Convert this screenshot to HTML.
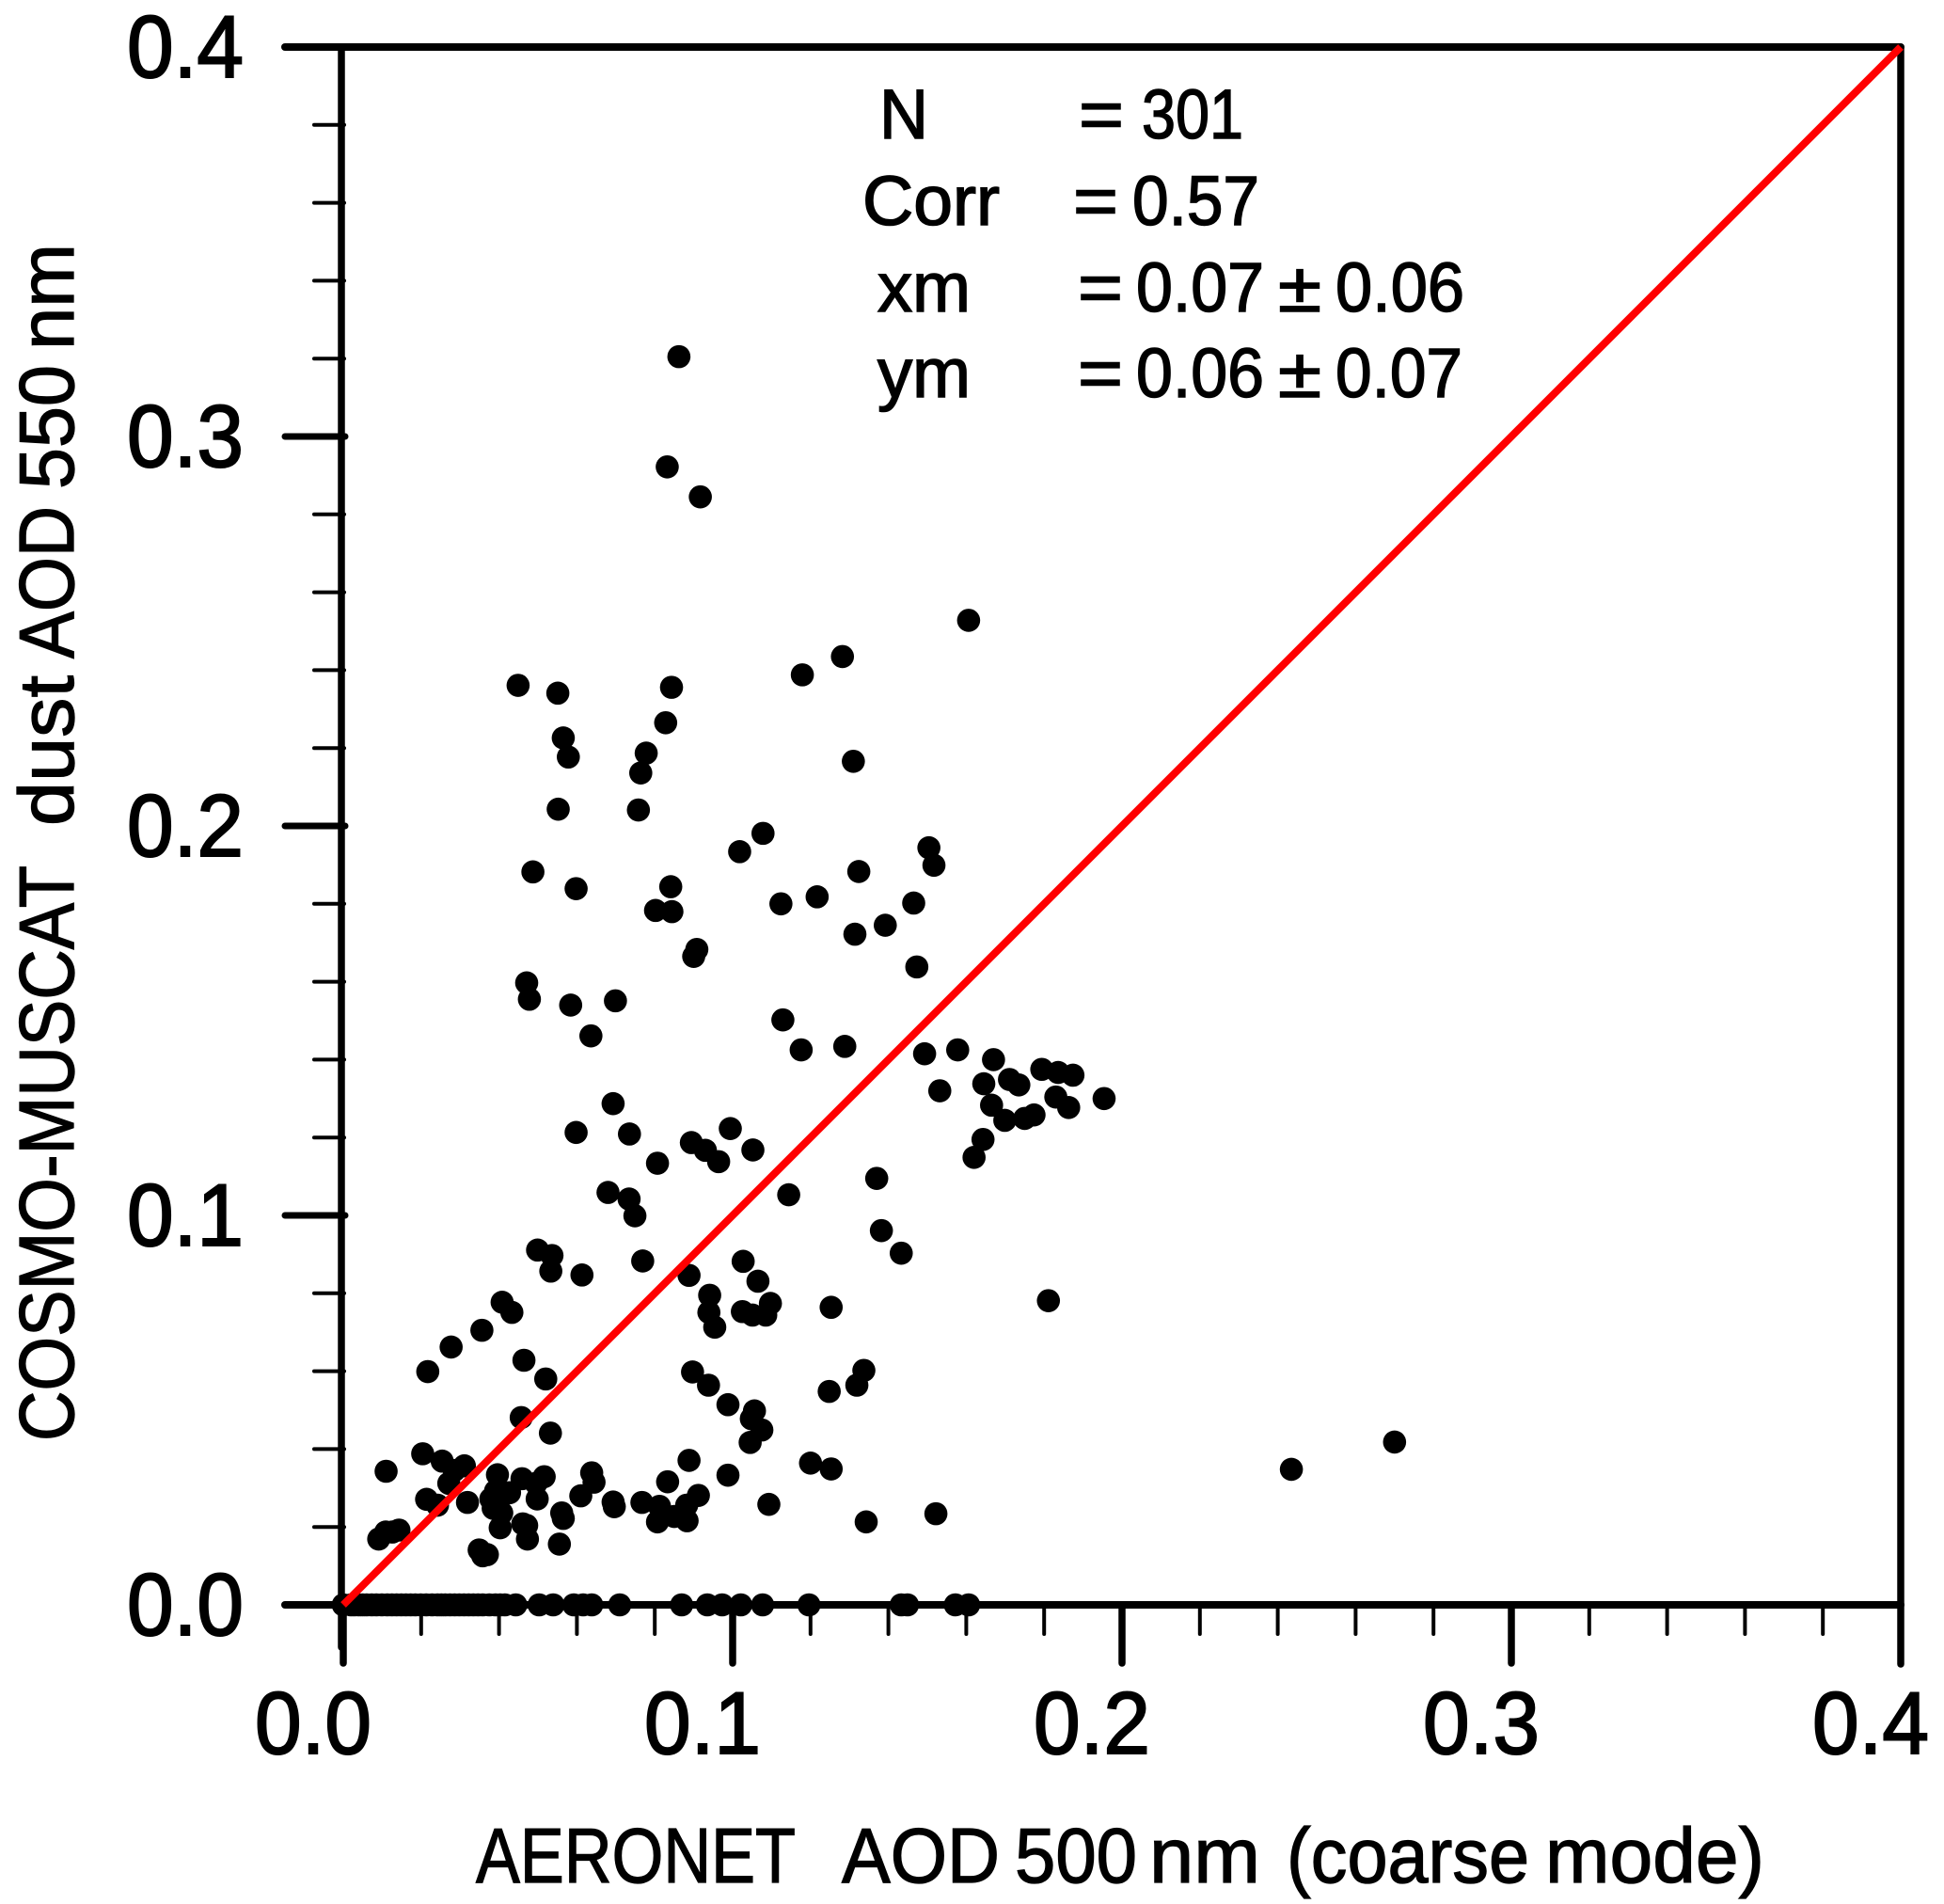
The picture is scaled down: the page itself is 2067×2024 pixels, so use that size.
<!DOCTYPE html>
<html lang="en">
<head>
<meta charset="utf-8">
<title>AERONET vs COSMO-MUSCAT AOD scatter</title>
<style>
html,body{margin:0;padding:0;background:#fff;}
svg{display:block;}
text{font-family:"Liberation Sans",sans-serif;fill:#000;white-space:pre;}
.tick-label{font-size:94px;stroke:#000;stroke-width:2px;}
.axis-title{font-size:83px;stroke:#000;stroke-width:1.3px;}
.stat{font-size:74px;stroke:#000;stroke-width:1.5px;}
</style>
</head>
<body>
<svg id="chart" xmlns="http://www.w3.org/2000/svg" width="2067" height="2024" viewBox="0 0 2067 2024">
  <rect x="0" y="0" width="2067" height="2024" fill="#fff"/>
  <g id="axes"></g>
  <g id="points"></g>
  <g id="reference"></g>
  <g id="ticklabels"></g>

  <g>
    <text class="axis-title" x="506" y="2001" textLength="340" lengthAdjust="spacingAndGlyphs">AERONET</text>
    <text class="axis-title" x="895" y="2001" textLength="168" lengthAdjust="spacingAndGlyphs">AOD</text>
    <text class="axis-title" x="1079" y="2001" textLength="130" lengthAdjust="spacingAndGlyphs">500</text>
    <text class="axis-title" x="1222" y="2001" textLength="118" lengthAdjust="spacingAndGlyphs">nm</text>
    <text class="axis-title" x="1368" y="2001" textLength="258" lengthAdjust="spacingAndGlyphs">(coarse</text>
    <text class="axis-title" x="1643" y="2001" textLength="233" lengthAdjust="spacingAndGlyphs">mode)</text>
  </g>
  <g>
    <text class="axis-title" transform="translate(78,1532) rotate(-90)" textLength="612" lengthAdjust="spacingAndGlyphs">COSMO-MUSCAT</text>
    <text class="axis-title" transform="translate(78,878) rotate(-90)" textLength="160" lengthAdjust="spacingAndGlyphs">dust</text>
    <text class="axis-title" transform="translate(78,700) rotate(-90)" textLength="162" lengthAdjust="spacingAndGlyphs">AOD</text>
    <text class="axis-title" transform="translate(78,520) rotate(-90)" textLength="132" lengthAdjust="spacingAndGlyphs">550</text>
    <text class="axis-title" transform="translate(78,372) rotate(-90)" textLength="113" lengthAdjust="spacingAndGlyphs">nm</text>
  </g>

  <g>
    <text class="stat" x="935" y="147" textLength="52" lengthAdjust="spacingAndGlyphs">N</text>
    <text class="stat" x="1147" y="147" textLength="48" lengthAdjust="spacingAndGlyphs">=</text>
    <text class="stat" x="1214" y="147" textLength="108" lengthAdjust="spacingAndGlyphs">301</text>

    <text class="stat" x="917" y="239" textLength="146" lengthAdjust="spacingAndGlyphs">Corr</text>
    <text class="stat" x="1141" y="239" textLength="48" lengthAdjust="spacingAndGlyphs">=</text>
    <text class="stat" x="1204" y="239" textLength="135" lengthAdjust="spacingAndGlyphs">0.57</text>

    <text class="stat" x="933" y="331" textLength="99" lengthAdjust="spacingAndGlyphs">xm</text>
    <text class="stat" x="1146" y="331" textLength="48" lengthAdjust="spacingAndGlyphs">=</text>
    <text class="stat" x="1208" y="331" textLength="136" lengthAdjust="spacingAndGlyphs">0.07</text>
    <text class="stat" x="1359" y="331" textLength="46" lengthAdjust="spacingAndGlyphs">±</text>
    <text class="stat" x="1420" y="331" textLength="137" lengthAdjust="spacingAndGlyphs">0.06</text>

    <text class="stat" x="933" y="422" textLength="99" lengthAdjust="spacingAndGlyphs">ym</text>
    <text class="stat" x="1146" y="422" textLength="48" lengthAdjust="spacingAndGlyphs">=</text>
    <text class="stat" x="1208" y="422" textLength="136" lengthAdjust="spacingAndGlyphs">0.06</text>
    <text class="stat" x="1359" y="422" textLength="46" lengthAdjust="spacingAndGlyphs">±</text>
    <text class="stat" x="1420" y="422" textLength="135" lengthAdjust="spacingAndGlyphs">0.07</text>
  </g>
</svg>
<script>
var aeronetAod = [
.0862,.0832,.0917,.1606,.0449,.0551,.0843,.1179,.1282,.0828,
.0565,.0578,.0778,.0764,.1310,.0552,.0758,.1078,.1018,.0487,
.0598,.0841,.0802,.0844,.1124,.1217,.1504,.1517,.1324,.1465,
.1392,.1314,.1473,.0908,.0900,.0471,.0478,.0584,.0699,.0636,
.1129,.1176,.1288,.1493,.1578,.1670,.1794,.1836,.1874,.1645,
.1711,.1735,.1532,.1830,.1863,.1954,.1665,.1699,.1750,.1774,
.1643,.1620,.1370,.1382,.1433,.1253,.1811,.0693,.0598,.0735,
.0994,.0894,.0930,.0964,.1052,.0807,.1144,.0680,.0734,.0749,
.0499,.0536,.0533,.0613,.0769,.0888,.1027,.1065,.0941,.0939,
.1097,.1025,.1051,.1085,.0954,.0408,.0433,.0217,.0277,.0356,
.0464,.0520,.0457,.0532,.0204,.0254,.0285,.0311,.0271,.0110,
.0214,.0242,.0319,.0396,.0459,.0516,.0495,.0498,.0427,.0391,
.0379,.0385,.0407,.0403,.0461,.0471,.0473,.0555,.0561,.0565,
.0638,.0644,.0610,.0693,.0696,.0767,.0812,.0807,.0850,.0883,
.0882,.0912,.0888,.0833,.0988,.1093,.0897,.0938,.0988,.1056,
.1048,.1075,.1045,.0091,.0109,.0143,.0126,.0349,.0358,.0370,
.1337,.1319,.1248,.1200,.1253,.1343,.1522,.2700,.2435
];
var cosmoDustAod = [
.3205,.2922,.2845,.2528,.2361,.2341,.2356,.2388,.2435,.2265,
.2226,.2177,.2187,.2136,.2166,.2043,.2041,.1981,.1934,.1882,
.1839,.1844,.1783,.1780,.1800,.1818,.1944,.1899,.1883,.1802,
.1745,.1722,.1638,.1683,.1665,.1597,.1555,.1540,.1551,.1461,
.1502,.1425,.1434,.1415,.1425,.1400,.1375,.1367,.1360,.1338,
.1349,.1335,.1320,.1304,.1277,.1300,.1283,.1244,.1249,.1258,
.1195,.1149,.1095,.0961,.0903,.0764,.0781,.1287,.1213,.1209,
.1223,.1187,.1167,.1138,.1168,.1134,.1053,.1059,.1042,.0999,
.0911,.0897,.0857,.0847,.0883,.0846,.0882,.0831,.0795,.0751,
.0774,.0753,.0744,.0744,.0713,.0777,.0751,.0599,.0662,.0705,
.0628,.0580,.0481,.0441,.0388,.0369,.0345,.0357,.0312,.0343,
.0271,.0256,.0263,.0334,.0324,.0329,.0312,.0272,.0288,.0292,
.0272,.0248,.0236,.0198,.0208,.0204,.0169,.0156,.0236,.0222,
.0339,.0315,.0280,.0264,.0252,.0263,.0253,.0213,.0227,.0216,
.0256,.0281,.0371,.0316,.0333,.0258,.0598,.0564,.0514,.0498,
.0478,.0449,.0417,.0169,.0187,.0192,.0187,.0141,.0126,.0129,
.0602,.0564,.0548,.0364,.0349,.0213,.0234,.0418,.0348
];
var zeroDustAeronetAod = [
0,.0020,.0030,.0040,.0050,.0060,.0073,.0085,.0099,.0113,.0125,.0137,.0149,.0161,.0173,.0185,.0199,.0213,.0228,
.0242,.0252,.0262,.0274,.0286,.0298,.0310,.0322,.0334,.0346,.0358,.0375,.0391,.0403,.0415,.0443,.0503,
.0539,.0592,.0616,.0638,.0710,.0869,.0935,.0973,.1021,.1077,
.1196,.1433,.1449,.1572,.1606
];
var majorTicks = [0, 0.1, 0.2, 0.3, 0.4];
var minorTicks = [0.02,0.04,0.06,0.08,0.12,0.14,0.16,0.18,0.22,0.24,0.26,0.28,0.32,0.34,0.36,0.38];
var xTickLabels = ["0.0","0.1","0.2","0.3","0.4"];
var yTickLabels = ["0.0","0.1","0.2","0.3","0.4"];
var referenceLine = [0, 0.4];

var NS = "http://www.w3.org/2000/svg";
var PLOT_LEFT = 365, PLOT_BOTTOM = 1706, PX_PER_UNIT = 4140;
function sx(v){ return PLOT_LEFT + v * PX_PER_UNIT; }
function sy(v){ return PLOT_BOTTOM - v * PX_PER_UNIT; }

function line(parent, x1, y1, x2, y2, w, color, cap){
  var el = document.createElementNS(NS, "line");
  el.setAttribute("x1", x1);
  el.setAttribute("y1", y1);
  el.setAttribute("x2", x2);
  el.setAttribute("y2", y2);
  el.setAttribute("stroke", color);
  el.setAttribute("stroke-width", w);
  el.setAttribute("stroke-linecap", cap);
  parent.appendChild(el);
  return el;
}
function dot(parent, xv, yv){
  var c = document.createElementNS(NS, "circle");
  c.setAttribute("cx", sx(xv));
  c.setAttribute("cy", sy(yv));
  c.setAttribute("r", 12.3);
  c.setAttribute("fill", "#000");
  
  
  parent.appendChild(c);
}

var axes = document.getElementById("axes");
var el;
el = line(axes, 363, sy(0.4), 363, 1751, 7.5, "#000", "round");


el = line(axes, sx(0.4), sy(0.4), sx(0.4), 1769, 7.5, "#000", "round");


el = line(axes, 303, sy(0.4), sx(0.4), sy(0.4), 8, "#000", "round");


el = line(axes, 303, sy(0), sx(0.4), sy(0), 8, "#000", "round");



majorTicks.forEach(function(t){
  var a = line(axes, 303, sy(t), 367, sy(t), 7, "#000", "round");
  
  
  if (t < 0.4) {
    var b = line(axes, sx(t), sy(0), sx(t), 1768, 7.5, "#000", "round");
    
    
  }
});
minorTicks.forEach(function(t){
  var a = line(axes, 334, sy(t), 366, sy(t), 4, "#000", "round");
  
  
  var b = line(axes, sx(t), sy(0), sx(t), 1737, 4, "#000", "round");
  
  
});

var pts = document.getElementById("points");
aeronetAod.forEach(function(x, i){ dot(pts, x, cosmoDustAod[i]); });
zeroDustAeronetAod.forEach(function(x){ dot(pts, x, 0); });

var ref = line(document.getElementById("reference"), sx(referenceLine[0]), sy(referenceLine[0]), sx(referenceLine[1]), sy(referenceLine[1]), 8, "#ff0000", "butt");



var labels = document.getElementById("ticklabels");
majorTicks.forEach(function(t, i){
  var xl = document.createElementNS(NS, "text");
  xl.setAttribute("class", "tick-label");
  xl.setAttribute("x", sx(t) - 94);
  xl.setAttribute("y", 1864);
  xl.setAttribute("textLength", 124);
  xl.setAttribute("lengthAdjust", "spacingAndGlyphs");
  xl.textContent = xTickLabels[i];
  
  
  labels.appendChild(xl);
  var yl = document.createElementNS(NS, "text");
  yl.setAttribute("class", "tick-label");
  yl.setAttribute("x", 135);
  yl.setAttribute("y", sy(t) + 32);
  yl.setAttribute("textLength", 124);
  yl.setAttribute("lengthAdjust", "spacingAndGlyphs");
  yl.textContent = yTickLabels[i];
  
  
  labels.appendChild(yl);
});
</script>
</body>
</html>
